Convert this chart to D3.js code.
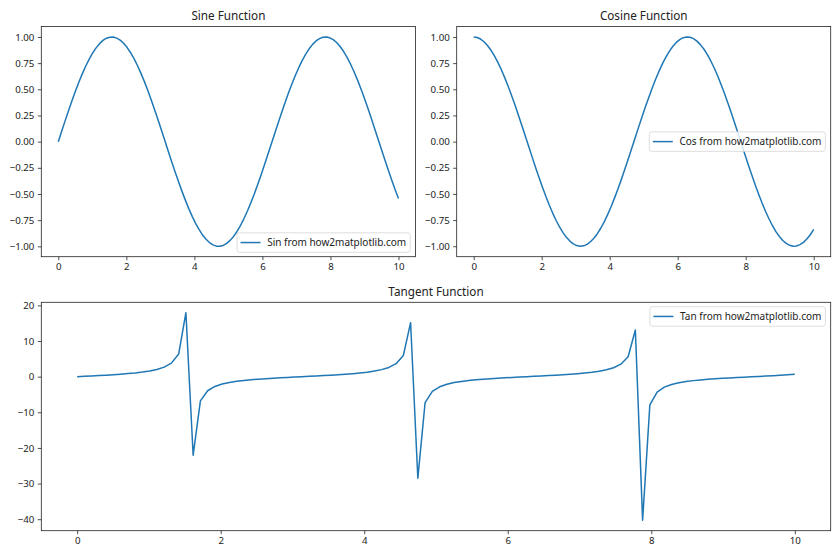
<!DOCTYPE html>
<html>
<head>
<meta charset="utf-8">
<script src="https://cdn.jsdelivr.net/npm/d3@7"></script>
<style>
  html, body { margin: 0; padding: 0; background: #fff; }
  svg { display: block; }
  text { font-family: "Noto Sans", "DejaVu Sans", sans-serif; fill: #222; }
</style>
</head>
<body>
<svg id="chart" width="840" height="560"></svg>
<script>
// ---- data (x sampled on 0..10, 100 points) ----
const xValues = [0, 0.101, 0.202, 0.303, 0.404, 0.505, 0.606, 0.707, 0.808, 0.909,
  1.010, 1.111, 1.212, 1.313, 1.414, 1.515, 1.616, 1.717, 1.818, 1.919,
  2.020, 2.121, 2.222, 2.323, 2.424, 2.525, 2.626, 2.727, 2.828, 2.929,
  3.030, 3.131, 3.232, 3.333, 3.434, 3.535, 3.636, 3.737, 3.838, 3.939,
  4.040, 4.141, 4.242, 4.343, 4.444, 4.545, 4.646, 4.747, 4.848, 4.949,
  5.051, 5.152, 5.253, 5.354, 5.455, 5.556, 5.657, 5.758, 5.859, 5.960,
  6.061, 6.162, 6.263, 6.364, 6.465, 6.566, 6.667, 6.768, 6.869, 6.970,
  7.071, 7.172, 7.273, 7.374, 7.475, 7.576, 7.677, 7.778, 7.879, 7.980,
  8.081, 8.182, 8.283, 8.384, 8.485, 8.586, 8.687, 8.788, 8.889, 8.990,
  9.091, 9.192, 9.293, 9.394, 9.495, 9.596, 9.697, 9.798, 9.899, 10];

const sinValues = [0, 0.101, 0.201, 0.298, 0.393, 0.484, 0.570, 0.650, 0.723, 0.789,
  0.847, 0.896, 0.936, 0.967, 0.988, 0.998, 0.999, 0.989, 0.970, 0.940,
  0.901, 0.852, 0.795, 0.730, 0.657, 0.578, 0.493, 0.403, 0.308, 0.211,
  0.111, 0.010, -0.091, -0.191, -0.289, -0.384, -0.475, -0.561, -0.642, -0.716,
  -0.783, -0.841, -0.892, -0.933, -0.964, -0.986, -0.998, -0.999, -0.991, -0.972,
  -0.943, -0.905, -0.858, -0.801, -0.737, -0.665, -0.586, -0.502, -0.412, -0.318,
  -0.221, -0.121, -0.021, 0.080, 0.180, 0.279, 0.374, 0.466, 0.553, 0.634,
  0.709, 0.776, 0.836, 0.887, 0.929, 0.962, 0.984, 0.997, 1.000, 0.992,
  0.974, 0.947, 0.909, 0.863, 0.808, 0.744, 0.673, 0.595, 0.511, 0.421,
  0.328, 0.231, 0.131, 0.031, -0.070, -0.170, -0.269, -0.365, -0.457, -0.544];

const cosValues = [1.000, 0.995, 0.980, 0.954, 0.919, 0.875, 0.822, 0.760, 0.691, 0.614,
  0.532, 0.444, 0.351, 0.255, 0.156, 0.056, -0.045, -0.146, -0.245, -0.341,
  -0.434, -0.523, -0.606, -0.683, -0.754, -0.816, -0.870, -0.915, -0.951, -0.978,
  -0.994, -1.000, -0.996, -0.982, -0.957, -0.923, -0.880, -0.828, -0.767, -0.698,
  -0.623, -0.540, -0.453, -0.361, -0.265, -0.166, -0.066, 0.035, 0.136, 0.235,
  0.332, 0.425, 0.514, 0.598, 0.676, 0.747, 0.810, 0.865, 0.911, 0.948,
  0.975, 0.993, 1.000, 0.997, 0.984, 0.960, 0.927, 0.885, 0.833, 0.773,
  0.706, 0.631, 0.549, 0.462, 0.370, 0.275, 0.176, 0.076, -0.025, -0.125,
  -0.225, -0.322, -0.416, -0.505, -0.590, -0.668, -0.740, -0.804, -0.860, -0.907,
  -0.945, -0.973, -0.991, -1.000, -0.998, -0.985, -0.963, -0.931, -0.890, -0.839];

const tanValues = [0, 0.101, 0.205, 0.313, 0.428, 0.553, 0.693, 0.854, 1.046, 1.284,
  1.593, 2.020, 2.667, 3.795, 6.331, 17.95, -22.03, -6.783, -3.960, -2.753,
  -2.073, -1.630, -1.312, -1.068, -0.872, -0.708, -0.566, -0.440, -0.324, -0.216,
  -0.112, -0.010, 0.091, 0.194, 0.301, 0.415, 0.540, 0.678, 0.837, 1.025,
  1.257, 1.557, 1.969, 2.586, 3.642, 5.934, 15.15, -28.50, -7.302, -4.138,
  -2.844, -2.129, -1.665, -1.340, -1.090, -0.891, -0.724, -0.580, -0.452, -0.334,
  -0.226, -0.122, -0.021, 0.081, 0.183, 0.290, 0.404, 0.526, 0.663, 0.820,
  1.004, 1.231, 1.522, 1.920, 2.509, 3.501, 5.584, 13.10, -40.31, -7.906,
  -4.333, -2.940, -2.187, -1.707, -1.369, -1.113, -0.909, -0.740, -0.594, -0.465,
  -0.347, -0.237, -0.133, -0.031, 0.070, 0.173, 0.279, 0.392, 0.513, 0.648];

const xTicks = [0, 2, 4, 6, 8, 10];
const trigTicks = [-1.00, -0.75, -0.50, -0.25, 0.00, 0.25, 0.50, 0.75, 1.00];
const tanTicks = [-40, -30, -20, -10, 0, 10, 20];

const titles = ["Sine Function", "Cosine Function", "Tangent Function"];
const legendLabels = ["Sin from how2matplotlib.com", "Cos from how2matplotlib.com", "Tan from how2matplotlib.com"];

// ---- drawing ----
const svg = d3.select("#chart");
const LINE = "#1f77b4";
const TICK_FS = 9.7, LEGEND_FS = 10, TITLE_FS = 11.7;

function pad(ext) {
  const m = (ext[1] - ext[0]) * 0.05;
  return [ext[0] - m, ext[1] + m];
}

function panel(box, ys, yTicks, yFmt, title, label, legendLoc) {
  const g = svg.append("g");
  const xMin = d3.min(xValues), xMax = d3.max(xValues);
  const xs = d3.scaleLinear().domain(pad([xMin, xMax])).range([box.x0, box.x1]);
  const yS = d3.scaleLinear().domain(pad(d3.extent(ys))).range([box.y1, box.y0]);

  // axes
  const xa = g.append("g").attr("transform", `translate(0,${box.y1})`)
    .call(d3.axisBottom(xs).tickValues(xTicks).tickFormat(d3.format("d")).tickSizeInner(3.5).tickSizeOuter(0).tickPadding(3.4));
  const ya = g.append("g").attr("transform", `translate(${box.x0},0)`)
    .call(d3.axisLeft(yS).tickValues(yTicks).tickFormat(yFmt).tickSizeInner(3.5).tickSizeOuter(0).tickPadding(3.4));
  [xa, ya].forEach(a => {
    a.select(".domain").remove();
    a.selectAll(".tick line").attr("stroke", "#222").attr("stroke-width", 0.8);
    a.selectAll(".tick text").attr("font-size", TICK_FS).attr("font-family", '"Noto Sans", sans-serif').attr("fill", "#222");
  });

  // line
  const line = d3.line().x((d, i) => xs(xValues[i])).y(d => yS(d));
  g.append("path").datum(ys).attr("d", line)
    .attr("fill", "none").attr("stroke", LINE).attr("stroke-width", 1.5)
    .attr("stroke-linejoin", "round").attr("stroke-linecap", "butt");

  // frame
  g.append("rect").attr("x", box.x0).attr("y", box.y0)
    .attr("width", box.x1 - box.x0).attr("height", box.y1 - box.y0)
    .attr("fill", "none").attr("stroke", "#222").attr("stroke-width", 0.8);

  // title
  g.append("text").attr("x", (box.x0 + box.x1) / 2).attr("y", box.y0 - 6.8)
    .attr("text-anchor", "middle").attr("font-size", TITLE_FS).text(title);

  // legend
  const lg = g.append("g");
  const t = lg.append("text").attr("font-size", LEGEND_FS).text(label);
  const tw = t.node().getComputedTextLength();
  const h = 19.5, w = 3.5 + 20 + 6.7 + tw + 4;
  const right = box.x1 - 5.3;
  let top;
  if (legendLoc === "lower right") top = box.y1 - 4.4 - h;
  else if (legendLoc === "upper right") top = box.y0 + 4.4;
  else top = (box.y0 + box.y1) / 2 - h / 2;
  const left = right - w;
  lg.insert("rect", "text").attr("x", left).attr("y", top).attr("width", w).attr("height", h)
    .attr("rx", 2.5).attr("fill", "#fff").attr("fill-opacity", 0.8)
    .attr("stroke", "#d5d5d5").attr("stroke-width", 0.8);
  lg.append("line").attr("x1", left + 3.5).attr("x2", left + 23.5)
    .attr("y1", top + h / 2).attr("y2", top + h / 2)
    .attr("stroke", LINE).attr("stroke-width", 1.5);
  t.attr("x", left + 30.2).attr("y", top + h / 2).attr("dy", "0.35em");
}

const fmt2 = d3.format(".2f");
panel({x0: 41.3, x1: 415.5, y0: 26.5, y1: 256.7}, sinValues, trigTicks, fmt2, titles[0], legendLabels[0], "lower right");
panel({x0: 456.7, x1: 830.7, y0: 26.5, y1: 256.7}, cosValues, trigTicks, fmt2, titles[1], legendLabels[1], "center right");
panel({x0: 41.3, x1: 830.7, y0: 302.3, y1: 530.7}, tanValues, tanTicks, d3.format("d"), titles[2], legendLabels[2], "upper right");
</script>
</body>
</html>
